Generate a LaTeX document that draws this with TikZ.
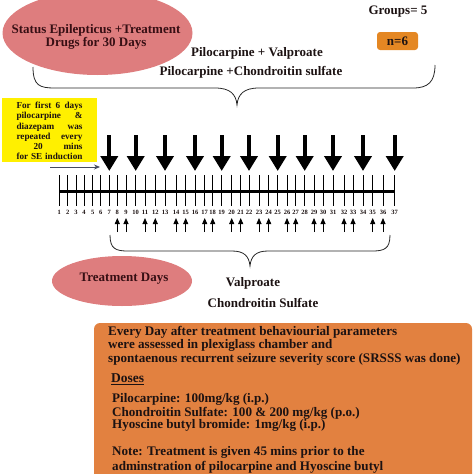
\documentclass[tikz,border=0pt]{standalone}
\usepackage{fontspec}
\setmainfont{Liberation Serif}
\usetikzlibrary{arrows.meta,calc}
\definecolor{pinkell}{RGB}{222,125,126}
\definecolor{orangebox}{RGB}{226,129,64}
\definecolor{nbox}{RGB}{228,135,35}
\definecolor{yellowbox}{RGB}{255,240,0}
\definecolor{txt}{RGB}{28,18,18}
\definecolor{hgray}{RGB}{70,75,95}
\definecolor{maroon}{RGB}{55,15,20}
\begin{document}
\begin{tikzpicture}[x=1pt,y=-1pt,
  every node/.style={text=txt, inner sep=0pt},
  lbl/.style={font=\bfseries\fontsize{13}{14}\selectfont},
  boxline/.style={font=\bfseries\fontsize{13.1}{14}\selectfont, anchor=west},
  ticklbl/.style={font=\bfseries\fontsize{6.5}{7}\selectfont},
  bigarrow/.style={line width=4pt, -{Triangle[width=17pt,length=15pt]}, shorten >=4pt},
  smallarrow/.style={line width=0.8pt, -{Triangle[width=5pt,length=6pt]}, shorten >=12pt},
  bracestyle/.style={line width=0.8pt, draw=black!85}
]
\useasboundingbox (0,0) rectangle (474,474);
\clip (0,0) rectangle (474,474);

% top ellipse
\fill[pinkell] (97.5,33) ellipse [x radius=95pt, y radius=42pt];
\node[align=center, font=\bfseries\fontsize{13}{12.5}\selectfont, text=maroon] (se) at (96,37) {Status Epilepticus +Treatment\\Drugs for 30 Days};

\node[lbl] (groups) at (398,12) {Groups= 5};
\node[lbl, fill=nbox, rounded corners=3pt, minimum width=41pt, minimum height=18pt] (n) at (397.5,41) {n=6};

\node[lbl] (g1) at (257,53) {Pilocarpine + Valproate};
\node[lbl] (g2) at (251,72) {Pilocarpine +Chondroitin sulfate};

% top brace
\draw[bracestyle] (33,67) .. controls (33,86) and (40,88) .. (55,88) -- (215,88)
  .. controls (230,88) and (236,94) .. (237,105)
  .. controls (238,94) and (244,88) .. (259,88) -- (413,88)
  .. controls (428,88) and (435,82) .. (435,65);

% yellow box
\node[fill=yellowbox, minimum width=95pt, minimum height=64pt] (ybox) at (49.5,130) {};
\node[font=\bfseries\fontsize{9.2}{10.2}\selectfont, align=left] (ytext) at (49.5,131) {%
\makebox[66pt][s]{For first 6 days}\\
\makebox[66pt][s]{pilocarpine \hfill \&}\\
\makebox[66pt][s]{diazepam \hfill was}\\
\makebox[66pt][s]{repeated \hfill every}\\
\makebox[66pt][s]{\hspace*{17pt}20 \hfill mins}\\
\makebox[66pt][s]{for SE induction}};

\coordinate (hs) at (50,167);
\coordinate (he) at (100,167);
\draw[hgray, line width=0.8pt, -{Stealth[length=6pt,width=5pt]}] (hs) -- (he);

% timeline
\foreach \x [count=\i] in {59.3,67.7,76,84,92.7,100.7,109.3,117.3,126,135.7,145,155.3,165,176,185.7,195,204.7,212.7,221.7,231.7,240.7,249,259,268.7,277.7,287,295.7,304.7,314,323,333,344,353,363,372.7,383,394.7}{
  \coordinate (tk\i) at (\x,175);
  \coordinate (bt\i) at (\x,206);
  \coordinate (ds\i) at (\x,135);
  \coordinate (us\i) at (\x,232);
  \draw[line width=1pt] (tk\i) -- (bt\i);
  \node[ticklbl] (lab\i) at (\x,212) {\i};
}
\draw[line width=3pt] (tk1 |- 0,191) -- (tk37 |- 0,191);

\foreach \i in {7,10,13,16,19,22,25,28,31,34,37}{
  \draw[bigarrow] (ds\i) -- (tk\i);
}
\foreach \i in {8,9,11,12,14,15,17,18,20,21,23,24,26,27,29,30,32,33,35,36}{
  \draw[smallarrow] (us\i) -- (bt\i);
}

% bottom brace
\draw[bracestyle] (110,235) .. controls (110,249) and (116,251) .. (128,251) -- (232,251)
  .. controls (244,251) and (249,256) .. (250,266)
  .. controls (251,256) and (256,251) .. (268,251) -- (372,251)
  .. controls (384,251) and (390,249) .. (390,235);

% bottom ellipse
\fill[pinkell] (122,281) ellipse [x radius=70pt, y radius=25pt];
\node[lbl, text=maroon] (td) at (124,279) {Treatment Days};

\node[lbl] (v) at (253,283) {Valproate};
\node[lbl] (cs) at (263,303) {Chondroitin Sulfate};

% orange box
\fill[orangebox, rounded corners=6pt] (94,323) rectangle (472,490);
\node[boxline] (l1) at (108,332) {Every Day after treatment behaviourial parameters};
\node[boxline] (l2) at (108,345) {were assessed in plexiglass chamber and};
\node[boxline] (l3) at (108,359) {spontaenous recurrent seizure severity score (SRSSS was done)};
\node[boxline, font=\bfseries\fontsize{13.5}{15}\selectfont] (doses) at (111,379) {\underline{Doses}};
\node[boxline] (d1) at (112,399) {Pilocarpine: 100mg/kg (i.p.)};
\node[boxline] (d2) at (112,413) {Chondroitin Sulfate: 100 \& 200 mg/kg (p.o.)};
\node[boxline] (d3) at (112,425) {Hyoscine butyl bromide: 1mg/kg (i.p.)};
\node[boxline] (n1) at (112,452) {Note: Treatment is given 45 mins prior to the};
\node[boxline] (n2) at (112,467) {adminstration of pilocarpine and Hyoscine butyl};
\end{tikzpicture}
\end{document}
